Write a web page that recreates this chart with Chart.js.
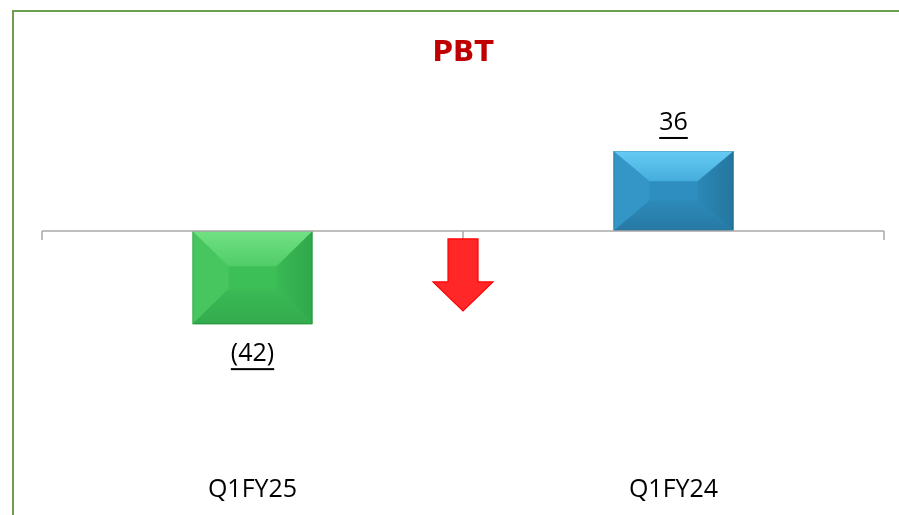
<!DOCTYPE html>
<html>
<head>
<meta charset="utf-8">
<script src="https://cdn.jsdelivr.net/npm/chart.js@4"></script>
<style>
  html, body { margin: 0; padding: 0; background: #fff; overflow: hidden; }
  #wrap { position: relative; width: 899px; height: 515px; }
  #frame { position: absolute; left: 12px; top: 10px; right: -10px; bottom: -10px;
           border-top: 2px solid #6E9E52; border-left: 2px solid #6E9E52; pointer-events: none; }
  canvas { position: absolute; left: 0; top: 0; }
</style>
</head>
<body>
<div id="wrap">
  <canvas id="c" width="899" height="515"></canvas>
  <div id="frame"></div>
</div>
<script>
const categories = ['Q1FY25', 'Q1FY24'];
const pbtValues = [-42, 36];
const barColors = ['#3DBF58', '#2E8EBF'];
const chartTitle = 'PBT';

// bevel facet shades per bar: [topEdge, topInner, left, rightInner, rightEdge, bottomInner, bottomEdge]
const bevelShades = [
  ['#72E285', '#50CC67', '#47C660', '#3AB955', '#30A84B', '#3BBA56', '#33AB4D'],
  ['#66CBF4', '#45ADDD', '#3396C6', '#2C88B6', '#24769F', '#2D8ABA', '#2679A3']
];

function fmt(v) { return v < 0 ? '(' + Math.abs(v) + ')' : String(v); }

const decorPlugin = {
  id: 'decor',
  afterDatasetsDraw(chart) {
    const ctx = chart.ctx;
    const meta = chart.getDatasetMeta(0);
    meta.data.forEach((bar, i) => {
      const s = bevelShades[i];
      const p = bar.getProps(['x', 'y', 'base', 'width'], true);
      const l = p.x - p.width / 2, r = p.x + p.width / 2;
      const t = Math.min(p.y, p.base), b = Math.max(p.y, p.base);
      const h = b - t;
      const bx = Math.min(36, p.width / 2);
      const by = Math.min(36, h * 0.38);
      ctx.save();
      // left facet
      ctx.beginPath(); ctx.moveTo(l, t); ctx.lineTo(l + bx, t + by); ctx.lineTo(l + bx, b - by); ctx.lineTo(l, b); ctx.closePath();
      ctx.fillStyle = s[2]; ctx.fill();
      // right facet
      ctx.beginPath(); ctx.moveTo(r, t); ctx.lineTo(r - bx, t + by); ctx.lineTo(r - bx, b - by); ctx.lineTo(r, b); ctx.closePath();
      let g = ctx.createLinearGradient(r - bx, 0, r, 0);
      g.addColorStop(0, s[3]); g.addColorStop(1, s[4]);
      ctx.fillStyle = g; ctx.fill();
      // top facet
      ctx.beginPath(); ctx.moveTo(l, t); ctx.lineTo(r, t); ctx.lineTo(r - bx, t + by); ctx.lineTo(l + bx, t + by); ctx.closePath();
      g = ctx.createLinearGradient(0, t, 0, t + by);
      g.addColorStop(0, s[0]); g.addColorStop(1, s[1]);
      ctx.fillStyle = g; ctx.fill();
      // bottom facet
      ctx.beginPath(); ctx.moveTo(l, b); ctx.lineTo(r, b); ctx.lineTo(r - bx, b - by); ctx.lineTo(l + bx, b - by); ctx.closePath();
      g = ctx.createLinearGradient(0, b - by, 0, b);
      g.addColorStop(0, s[5]); g.addColorStop(1, s[6]);
      ctx.fillStyle = g; ctx.fill();
      // outline
      ctx.strokeStyle = 'rgba(0,0,0,0.12)'; ctx.lineWidth = 1;
      ctx.strokeRect(l + 0.5, t + 0.5, p.width - 1, h - 1);
      ctx.restore();
    });

    // zero axis line and tick marks
    const xs = chart.scales.x, ys = chart.scales.y;
    const y0 = ys.getPixelForValue(0);
    const left = chart.chartArea.left, right = chart.chartArea.right;
    ctx.save();
    ctx.strokeStyle = '#A8A8A8'; ctx.lineWidth = 1.5;
    ctx.beginPath(); ctx.moveTo(left, y0); ctx.lineTo(right, y0); ctx.stroke();
    const tickXs = [left];
    for (let i = 0; i < categories.length - 1; i++) {
      tickXs.push((xs.getPixelForValue(i) + xs.getPixelForValue(i + 1)) / 2);
    }
    tickXs.push(right);
    tickXs.forEach(tx => { ctx.beginPath(); ctx.moveTo(tx, y0); ctx.lineTo(tx, y0 + 9); ctx.stroke(); });
    ctx.restore();
  },
  afterDraw(chart) {
    const ctx = chart.ctx;
    const meta = chart.getDatasetMeta(0);
    ctx.save();
    ctx.font = '25px "Open Sans"';
    ctx.fillStyle = '#000'; ctx.textAlign = 'center'; ctx.textBaseline = 'middle';
    meta.data.forEach((bar, i) => {
      const v = pbtValues[i];
      const p = bar.getProps(['x', 'y', 'base'], true);
      const cy = v >= 0 ? p.y - 28 : p.y + 30;
      const txt = fmt(v);
      ctx.fillText(txt, p.x, cy);
      const w = ctx.measureText(txt).width;
      ctx.fillRect(p.x - w / 2, cy + 14, w, 2);
    });
    // down arrow between categories
    const xs = chart.scales.x, ys = chart.scales.y;
    const ax = (xs.getPixelForValue(0) + xs.getPixelForValue(1)) / 2;
    const top = ys.getPixelForValue(0) + 8;
    ctx.beginPath();
    ctx.moveTo(ax - 15, top); ctx.lineTo(ax + 15, top); ctx.lineTo(ax + 15, top + 43);
    ctx.lineTo(ax + 30, top + 43); ctx.lineTo(ax, top + 72); ctx.lineTo(ax - 30, top + 43);
    ctx.lineTo(ax - 15, top + 43); ctx.closePath();
    ctx.fillStyle = '#FF2727'; ctx.fill();
    ctx.strokeStyle = '#FF0000'; ctx.lineWidth = 1.2; ctx.stroke();
    ctx.restore();
  }
};

new Chart(document.getElementById('c'), {
  type: 'bar',
  data: {
    labels: categories,
    datasets: [{
      data: pbtValues,
      backgroundColor: barColors,
      borderWidth: 0,
      barPercentage: 0.285,
      categoryPercentage: 1
    }]
  },
  options: {
    responsive: false,
    animation: false,
    layout: { padding: { top: 27, left: 42, right: 15, bottom: 7 } },
    plugins: {
      legend: { display: false },
      tooltip: { enabled: false },
      title: {
        display: true, text: chartTitle, color: '#C00000',
        font: { family: '"DejaVu Sans"', size: 28, weight: 'bold' },
        padding: { top: 10, bottom: 10 }
      }
    },
    scales: {
      x: {
        grid: { display: false }, border: { display: false },
        ticks: { color: '#000', font: { family: '"Open Sans"', size: 25 }, padding: 3 }
      },
      y: { display: false, min: -105, max: 67.7 }
    }
  },
  plugins: [decorPlugin]
});
</script>
</body>
</html>
